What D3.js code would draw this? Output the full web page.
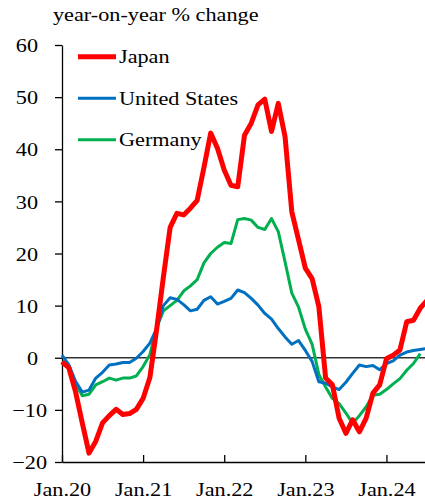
<!DOCTYPE html>
<html>
<head>
<meta charset="utf-8">
<script src="https://cdn.jsdelivr.net/npm/d3@7"></script>
<style>
  body { margin: 0; background: #fff; }
  svg { display: block; }
</style>
</head>
<body>
<svg id="chart" width="425" height="502"></svg>
<script>
// months since Jan.2020
var japan = [-0.8, -1.9, -6.5, -12.5, -18.3, -16.0, -12.5, -11.1, -9.9, -10.9, -10.7, -9.9,
  -7.8, -3.8, 5.4, 15.5, 25.0, 27.7, 27.4, 28.7, 30.2, 36.5, 43.1, 40.2,
  36.0, 33.1, 32.8, 42.7, 45.0, 48.5, 49.6, 43.4, 48.8, 42.4, 28.0, 22.6,
  17.2, 15.2, 9.8, -3.9, -5.2, -11.6, -14.5, -11.9, -14.2, -11.6, -6.8, -5.2,
  -0.2, 0.5, 1.5, 6.9, 7.2, 9.5, 11.0];
var us = [0.5, -1.3, -4.5, -6.6, -6.2, -3.9, -2.8, -1.4, -1.2, -0.9, -0.9, -0.1,
  1.2, 2.8, 5.6, 10.0, 11.5, 11.2, 10.2, 9.0, 9.3, 11.0, 11.7, 10.3,
  10.8, 11.4, 13.0, 12.5, 11.4, 10.1, 8.5, 7.4, 5.6, 4.0, 2.6, 3.3,
  1.4, -0.7, -4.6, -4.9, -5.6, -6.1, -4.7, -3.0, -1.4, -1.7, -1.5, -2.3,
  -1.1, -0.6, 0.5, 1.1, 1.4, 1.6, 1.8];
var germany = [-0.8, -1.7, -4.9, -7.3, -7.0, -5.2, -4.6, -3.9, -4.3, -3.9, -3.9, -3.5,
  -1.7, 0.6, 5.8, 9.0, 10.0, 11.0, 12.8, 13.8, 15.0, 18.2, 20.0, 21.2,
  22.1, 21.9, 26.5, 26.7, 26.4, 25.0, 24.6, 26.7, 24.2, 18.4, 12.4, 9.7,
  5.5, 2.6, -3.2, -5.6, -7.8, -8.8, -10.6, -12.6, -11.1, -9.4, -7.2, -7.0,
  -6.1, -5.0, -4.0, -2.4, -1.1, 0.8];

var seriesNames = ["Japan", "United States", "Germany"];
var xTicks = [0, 12, 24, 36, 48];
var xTickLabels = ["Jan.20", "Jan.21", "Jan.22", "Jan.23", "Jan.24"];
var yTicks = [-20, -10, 0, 10, 20, 30, 40, 50, 60];

var svg = d3.select("#chart");
var font = "'Liberation Serif', 'Times New Roman', serif";
var fontSize = 19.5;
var stretch = " scale(1.14,1)"; // the reference text is a bit wide

var x = d3.scaleLinear().domain([0, 54]).range([62, 427]);
var y = d3.scaleLinear().domain([-20, 60]).range([462, 45]);

var series = [
  { name: seriesNames[0], values: japan, color: "#ff0000", width: 5 },
  { name: seriesNames[1], values: us, color: "#0070c0", width: 3 },
  { name: seriesNames[2], values: germany, color: "#00b050", width: 3 }
];

// title
svg.append("text")
  .attr("transform", "translate(53,21)" + stretch)
  .attr("font-family", font)
  .attr("font-size", fontSize)
  .text("year-on-year % change");

// zero line
svg.append("line")
  .attr("x1", x(0)).attr("x2", 425)
  .attr("y1", y(0)).attr("y2", y(0))
  .attr("stroke", "#333").attr("stroke-width", 1.5);

// y axis
var yAxis = svg.append("g")
  .attr("transform", "translate(" + x(0) + ",0)")
  .call(d3.axisLeft(y).tickValues(yTicks).tickSize(7).tickSizeOuter(0));
yAxis.select(".domain").attr("stroke", "#000").attr("stroke-width", 1.3);
yAxis.selectAll(".tick line").attr("stroke", "#000").attr("stroke-width", 1.3);
yAxis.selectAll(".tick text")
  .attr("x", null).attr("dy", null)
  .attr("font-family", font).attr("font-size", fontSize).attr("fill", "#000")
  .attr("text-anchor", "end")
  .attr("transform", function(d) { return "translate(" + (d < 0 ? -15 : -24) + ",6.7)" + stretch; });

// x axis
var xAxis = svg.append("g")
  .attr("transform", "translate(0," + y(-20) + ")")
  .call(d3.axisBottom(x).tickValues(xTicks).tickSize(-7).tickSizeOuter(0)
    .tickFormat(function(d, i) { return xTickLabels[i]; }));
xAxis.select(".domain").attr("stroke", "#000").attr("stroke-width", 1.3);
xAxis.selectAll(".tick line").attr("stroke", "#000").attr("stroke-width", 1.3);
xAxis.selectAll(".tick text")
  .attr("y", null).attr("dy", null)
  .attr("font-family", font).attr("font-size", fontSize).attr("fill", "#000")
  .attr("text-anchor", "middle")
  .attr("transform", "translate(0,33.5)" + stretch);

// lines
var line = d3.line()
  .x(function(d, i) { return x(i); })
  .y(function(d) { return y(d); });

svg.append("g").selectAll("path")
  .data(series.slice().reverse())
  .enter().append("path")
  .attr("d", function(d) { return line(d.values); })
  .attr("fill", "none")
  .attr("stroke", function(d) { return d.color; })
  .attr("stroke-width", function(d) { return d.width; })
  .attr("stroke-linejoin", "round");

// legend
var legend = svg.append("g").selectAll("g")
  .data(series)
  .enter().append("g")
  .attr("transform", function(d, i) { return "translate(78," + (56.7 + i * 41.5) + ")"; });

legend.append("line")
  .attr("x1", 0).attr("x2", 38)
  .attr("stroke", function(d) { return d.color; })
  .attr("stroke-width", function(d) { return d.width; });

legend.append("text")
  .attr("transform", "translate(41,6.7)" + stretch)
  .attr("font-family", font)
  .attr("font-size", fontSize)
  .text(function(d) { return d.name; });
</script>
</body>
</html>
